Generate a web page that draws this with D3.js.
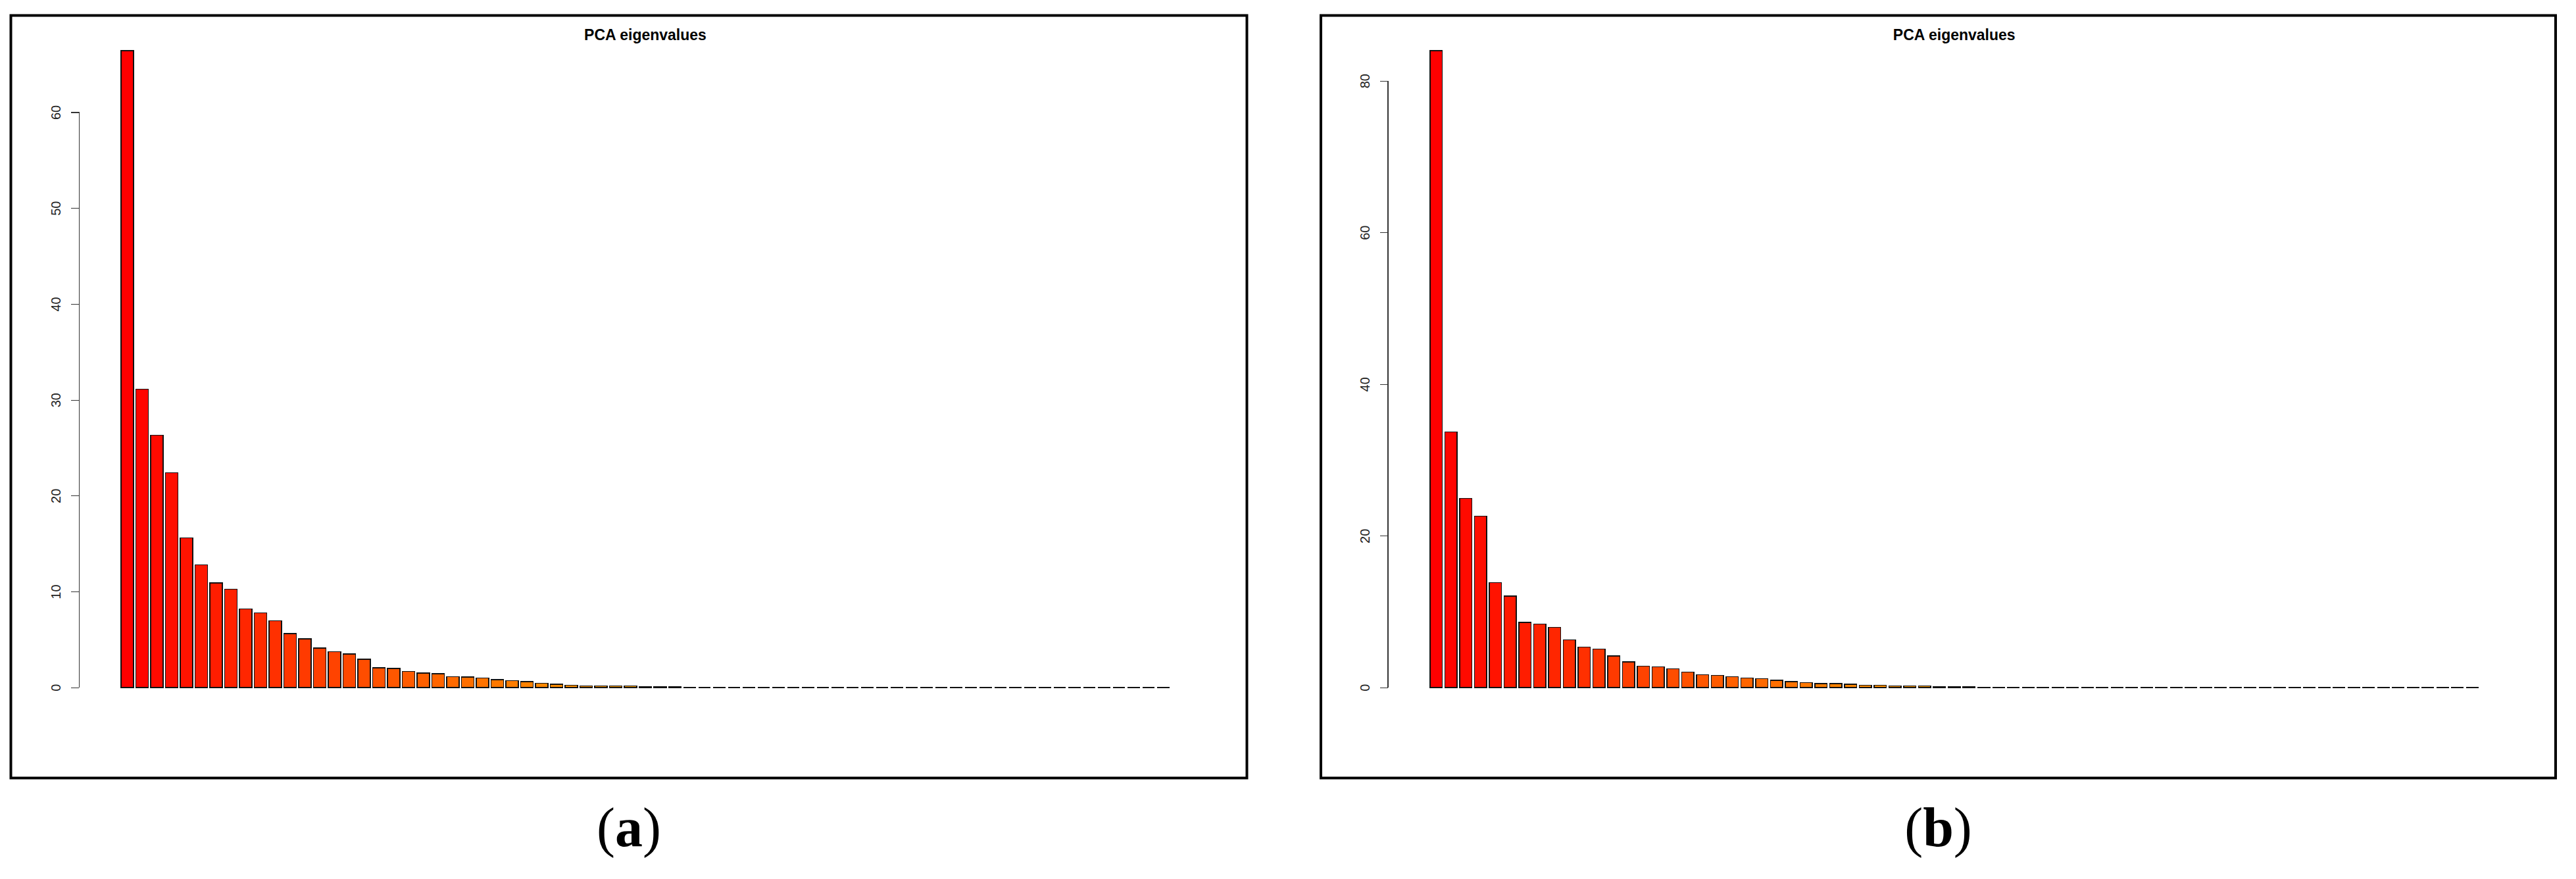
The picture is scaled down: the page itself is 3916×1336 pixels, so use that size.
<!DOCTYPE html>
<html>
<head>
<meta charset="utf-8">
<script src="https://cdn.jsdelivr.net/npm/d3@7"></script>
<style>
  body { margin: 0; background: #fff; }
  svg { display: block; }
</style>
</head>
<body>
<div class="D3"></div>
<script>
//eigenvalues (71 components each)
var eigenA = [66.4, 31.1, 26.3, 22.4, 15.6, 12.8, 10.9, 10.24, 8.2, 7.76,
  6.95, 5.6, 5.08, 4.1, 3.74, 3.47, 2.93, 2.03, 1.96, 1.68,
  1.5, 1.41, 1.13, 1.07, 0.97, 0.8, 0.69, 0.59, 0.42, 0.33,
  0.24, 0.16, 0.16, 0.16, 0.15, 0.06, 0.05, 0.04, 0, 0,
  0, 0, 0, 0, 0, 0, 0, 0, 0, 0,
  0, 0, 0, 0, 0, 0, 0, 0, 0, 0,
  0, 0, 0, 0, 0, 0, 0, 0, 0, 0, 0];

var eigenB = [83.95, 33.7, 24.93, 22.57, 13.81, 12.06, 8.58, 8.35, 7.91, 6.29,
  5.31, 5.05, 4.15, 3.37, 2.79, 2.71, 2.45, 2.01, 1.66, 1.58,
  1.43, 1.23, 1.14, 0.94, 0.77, 0.62, 0.51, 0.51, 0.42, 0.3,
  0.3, 0.19, 0.19, 0.19, 0.06, 0.05, 0.05, 0.04, 0, 0,
  0, 0, 0, 0, 0, 0, 0, 0, 0, 0,
  0, 0, 0, 0, 0, 0, 0, 0, 0, 0,
  0, 0, 0, 0, 0, 0, 0, 0, 0, 0, 0];

//y tick labels for each panel
var ticksA = [0, 10, 20, 30, 40, 50, 60];
var ticksB = [0, 20, 40, 60, 80];

var panelTitle = "PCA eigenvalues";
var captions = ["a", "b"];

//set svg size
var svgWidth = 3916;
var svgHeight = 1336;

var svg = d3
  .select(".D3")
  .append("svg")
  .attr("width", svgWidth)
  .attr("height", svgHeight);

svg.append("rect")
  .attr("width", svgWidth)
  .attr("height", svgHeight)
  .attr("fill", "#fff");

//same idea as R's heat.colors(n): red -> yellow hues, then fading yellows
function heatColors(n) {
  var j = Math.floor(n / 4);
  var i = n - j;
  var cols = [];
  for (var k = 0; k < i; k++) {
    cols.push(d3.hsl(60 * k / (i - 1), 1, 0.5).formatHex());
  }
  for (var m = 0; m < j; m++) {
    var s = j > 1 ? (1 - 1 / (2 * j)) - m * ((1 - 1 / j) / (j - 1)) : 0.5;
    cols.push(d3.hsl(60, 1, 1 - s / 2).formatHex());
  }
  return cols;
}

//layout of the two panels (frame box and plot region)
var panels = [
  {values: eigenA, ticks: ticksA, caption: captions[0], frameLeft: 16.5, frameRight: 1895.5, plotLeft: 120.25, plotRight: 1841.75},
  {values: eigenB, ticks: ticksB, caption: captions[1], frameLeft: 2008, frameRight: 3885, plotLeft: 2110, plotRight: 3831.5}
];

var frameTop = 23.5;
var frameBottom = 1182.5;
var plotTop = 38.5;
var plotBottom = 1083.5;

panels.forEach(drawPanel);

function drawPanel(p) {
  var g = svg.append("g");
  var n = p.values.length;
  var colors = heatColors(n);

  //outer box round each figure
  g.append("rect")
    .attr("x", p.frameLeft)
    .attr("y", frameTop)
    .attr("width", p.frameRight - p.frameLeft)
    .attr("height", frameBottom - frameTop)
    .attr("fill", "none")
    .attr("stroke", "#000")
    .attr("stroke-width", 4);

  //R barplot: 4% padding on the y range, space = 0.2 between bars
  var maxVal = d3.max(p.values);
  var y = d3.scaleLinear()
    .domain([-0.04 * maxVal, 1.04 * maxVal])
    .range([plotBottom, plotTop]);

  var x = d3.scaleBand()
    .domain(d3.range(1, n + 1))
    .range([p.plotLeft, p.plotRight])
    .paddingInner(0.2 / 1.2)
    .paddingOuter(3.4 / 1.2);

  //bars as paths so zero values still draw their flat outline
  g.selectAll("path.bar")
    .data(p.values)
    .enter()
    .append("path")
    .classed("bar", true)
    .attr("d", function(d, i) {
      var x0 = x(i + 1);
      var x1 = x0 + x.bandwidth();
      var y0 = y(0);
      var y1 = y(d);
      return "M" + x0 + "," + y0 + "H" + x1 + "V" + y1 + "H" + x0 + "Z";
    })
    .attr("fill", (d, i) => colors[i])
    .attr("stroke", "#111")
    .attr("stroke-width", 1.5)
    .attr("shape-rendering", "crispEdges");

  //left axis, labels rotated like R's las = 0
  var leftAxis = d3.axisLeft(y)
    .tickValues(p.ticks)
    .tickSize(12)
    .tickFormat(d3.format("d"));

  var yAxis = g.append("g")
    .attr("transform", `translate(${p.plotLeft}, 0)`)
    .call(leftAxis);

  yAxis.select(".domain").remove();
  yAxis.selectAll(".tick line")
    .attr("stroke", "#333")
    .attr("stroke-width", 1.2)
    .attr("shape-rendering", "crispEdges");
  yAxis.selectAll(".tick text")
    .attr("x", 0)
    .attr("y", -28)
    .attr("dy", 0)
    .attr("transform", "rotate(-90)")
    .attr("text-anchor", "middle")
    .attr("fill", "#222")
    .attr("font-family", "Liberation Sans, Arial, sans-serif")
    .attr("font-size", 20);

  //axis line only spans first to last tick
  yAxis.append("line")
    .attr("x1", 0)
    .attr("x2", 0)
    .attr("y1", y(p.ticks[0]))
    .attr("y2", y(p.ticks[p.ticks.length - 1]))
    .attr("stroke", "#333")
    .attr("stroke-width", 1.2)
    .attr("shape-rendering", "crispEdges");

  //main title over the plot region
  g.append("text")
    .attr("x", (p.plotLeft + p.plotRight) / 2)
    .attr("y", 61)
    .attr("text-anchor", "middle")
    .attr("font-family", "Liberation Sans, Arial, sans-serif")
    .attr("font-weight", "bold")
    .attr("font-size", 23)
    .attr("fill", "#000")
    .text(panelTitle);

  //figure caption "(a)" / "(b)"
  var cap = g.append("text")
    .attr("x", (p.frameLeft + p.frameRight) / 2)
    .attr("y", 1286)
    .attr("text-anchor", "middle")
    .attr("font-family", "Liberation Serif, Times New Roman, serif")
    .attr("font-size", 84)
    .attr("fill", "#000");
  cap.append("tspan").text("(");
  cap.append("tspan").attr("font-weight", "bold").text(p.caption);
  cap.append("tspan").text(")");
}
</script>
</body>
</html>
